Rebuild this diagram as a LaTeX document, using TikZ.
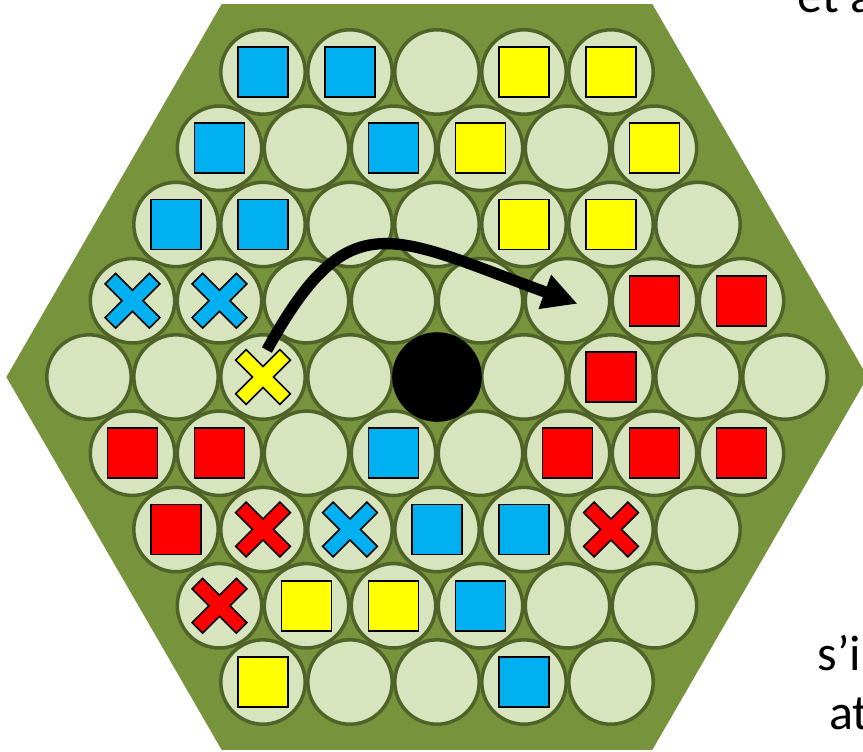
\documentclass[tikz,border=0pt]{standalone}
\usepackage{fontspec}
\setmainfont{Carlito}
\usepackage{tikz}
\usetikzlibrary{arrows.meta,positioning}
\definecolor{boardgreen}{HTML}{77933C}
\definecolor{cellfill}{HTML}{D7E4BD}
\definecolor{cellline}{HTML}{4F6228}
\definecolor{pieceblue}{HTML}{00B0F0}
\definecolor{pieceyellow}{HTML}{FFFF00}
\definecolor{piecered}{HTML}{FF0000}
\tikzset{
  cell/.style={circle,draw=cellline,fill=cellfill,line width=2.3pt,minimum size=1.94cm,inner sep=0pt},
  sqpiece/.style={draw=black,line width=1.1pt,minimum size=1.15cm,inner sep=0pt},
  xpiece/.style={draw=black,line width=1pt,line join=miter},
  movearrow/.style={line width=7.4pt,-{Triangle[length=0.8cm,width=0.78cm]}},
  sidetext/.style={anchor=base west,inner sep=0pt,font=\fontsize{32.7}{39}\selectfont}
}
% cross piece at a cell
\newcommand{\crosspiece}[2]{%
  \draw[xpiece,fill=#2,shift={(#1)},rotate=45]
    (0.17,0.17) -- (0.72,0.17) -- (0.72,-0.17) -- (0.17,-0.17) -- (0.17,-0.72)
    -- (-0.17,-0.72) -- (-0.17,-0.17) -- (-0.72,-0.17) -- (-0.72,0.17)
    -- (-0.17,0.17) -- (-0.17,0.72) -- (0.17,0.72) -- cycle;}
\begin{document}
\begin{tikzpicture}
  \useasboundingbox (-10.046,-8.598) rectangle (9.793,8.667);
  \clip (-10.046,-8.598) rectangle (9.793,8.667);
  % board
  \fill[boardgreen] (0:9.9) -- (60:9.9) -- (120:9.9) -- (180:9.9)
    -- (240:9.9) -- (300:9.9) -- cycle;
  % cells, row by row
  \foreach \r in {1,...,9} {
    \pgfmathtruncatemacro{\n}{9-abs(\r-5)}
    \foreach \k in {1,...,\n} {
      \node[cell] (c-\r-\k) at ({(\k-(\n+1)/2)*2},{(5-\r)*1.753}) {};
    }
  }
  % square pieces
  \foreach \c in {1-1,1-2,2-1,2-3,3-1,3-2,6-4,7-4,7-5,8-4,9-4}
    \node[sqpiece,fill=pieceblue] (sq-\c) at (c-\c) {};
  \foreach \c in {1-4,1-5,2-4,2-6,3-5,3-6,8-2,8-3,9-1}
    \node[sqpiece,fill=pieceyellow] (sq-\c) at (c-\c) {};
  \foreach \c in {4-7,4-8,5-7,6-1,6-2,6-6,6-7,6-8,7-1}
    \node[sqpiece,fill=piecered] (sq-\c) at (c-\c) {};
  % cross pieces
  \foreach \c in {4-1,4-2,7-3} {\crosspiece{c-\c}{pieceblue}}
  \crosspiece{c-5-3}{pieceyellow}
  \foreach \c in {7-2,7-6,8-1} {\crosspiece{c-\c}{piecered}}
  % centre stone
  \fill[black] (c-5-5) circle (1.03);
  % move
  \coordinate (mv-start) at ([shift={(0.09,0.62)}]c-5-3);
  \coordinate (mv-end) at ([shift={(0.23,-0.07)}]c-4-6);
  \draw[movearrow] (mv-start) .. controls (-2.02,4.05) and (-1.08,3.26) .. (mv-end);
  % cut-off text on the right
  \node[sidetext] (txt-top) at (8.28,8.37) {et a};
  \node[sidetext] (txt-mid) at (8.74,-6.74) {s’in};
  \node[sidetext] (txt-bot) at (9.01,-8.11) {at};
\end{tikzpicture}
\end{document}
